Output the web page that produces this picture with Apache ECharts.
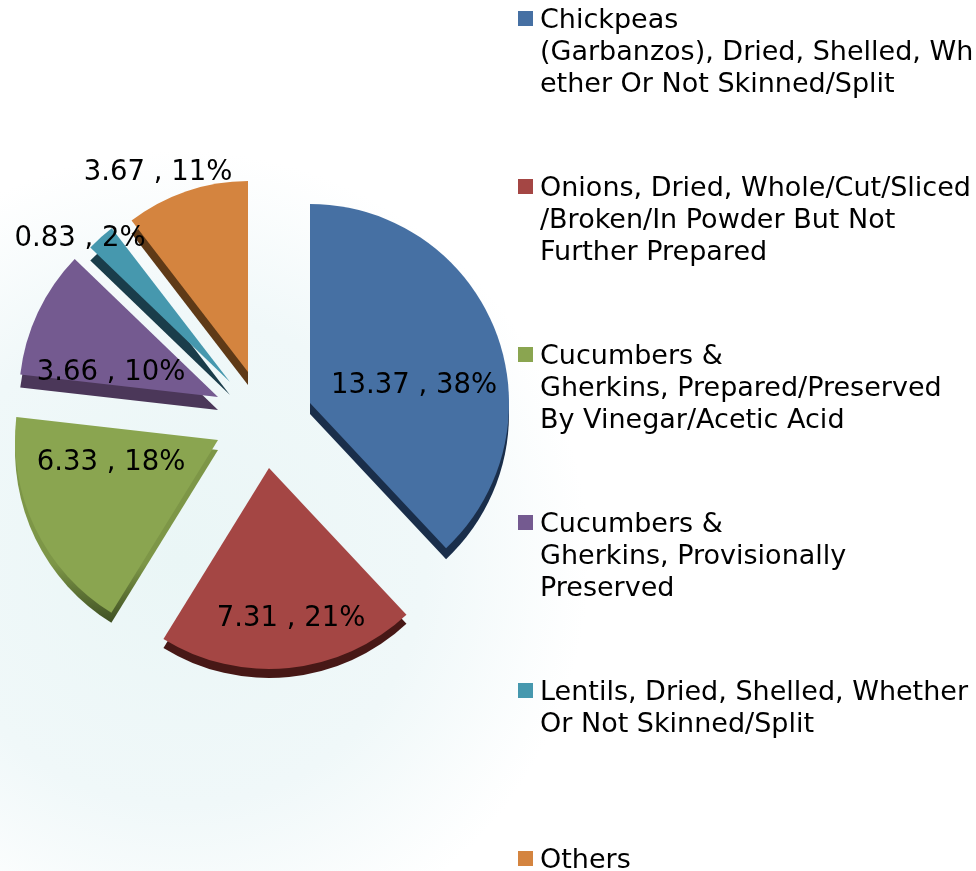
<!DOCTYPE html>
<html>
<head>
<meta charset="utf-8">
<style>
  html, body { margin: 0; padding: 0; background: #fff; }
  #main { width: 976px; height: 871px; }
</style>
<script src="https://cdn.jsdelivr.net/npm/echarts@6/dist/echarts.min.js"></script>
</head>
<body>
<div id="main"></div>
<script>
// values
const categories = [
  'Chickpeas (Garbanzos), Dried, Shelled, Whether Or Not Skinned/Split',
  'Onions, Dried, Whole/Cut/Sliced/Broken/In Powder But Not Further Prepared',
  'Cucumbers & Gherkins, Prepared/Preserved By Vinegar/Acetic Acid',
  'Cucumbers & Gherkins, Provisionally Preserved',
  'Lentils, Dried, Shelled, Whether Or Not Skinned/Split',
  'Others'
];
const legendLines = [
  ['Chickpeas', '(Garbanzos), Dried, Shelled, Wh', 'ether Or Not Skinned/Split'],
  ['Onions, Dried, Whole/Cut/Sliced', '/Broken/In Powder But Not', 'Further Prepared'],
  ['Cucumbers &', 'Gherkins, Prepared/Preserved', 'By Vinegar/Acetic Acid'],
  ['Cucumbers &', 'Gherkins, Provisionally', 'Preserved'],
  ['Lentils, Dried, Shelled, Whether', 'Or Not Skinned/Split', ' '],
  ['Others', ' ', ' ']
];
const values = [13.37, 7.31, 6.33, 3.66, 0.83, 3.67];

const colors = ['#4670a3', '#a44644', '#8aa550', '#745a90', '#4698ae', '#d4843f'];
const greenSide = {
  type: 'linear', x: 0, y: 0, x2: 0, y2: 1,
  colorStops: [
    { offset: 0, color: '#7d9647' },
    { offset: 0.7, color: '#7d9647' },
    { offset: 1, color: '#3f5023' }
  ]
};
const sideColors = ['#1a2e4a', '#471816', greenSide, '#4b3759', '#1a3d4a', '#5f3a17'];

// each slice is pulled out by its own amount
const tips = [[310, 403], [269, 468], [218, 440], [218, 397], [230, 382], [248, 372]];
const radii = [199, 201, 203, 199, 194, 191];
const depths = [11, 9, 10, 13, 13, 13];
const labelPos = [[414, 386], [291, 619], [111, 463], [111, 373], [80, 239], [158, 173]];

const font = '"DejaVu Sans", Verdana, sans-serif';
const series = [];

function sliceSeries(i, color, isSide) {
  const d = isSide ? depths[i] : 0;
  return {
    type: 'pie',
    z: isSide ? 1 : 2,
    silent: true,
    animation: false,
    startAngle: 90,
    percentPrecision: 0,
    radius: [0, radii[i]],
    center: [tips[i][0], tips[i][1] + d],
    avoidLabelOverlap: false,
    label: { show: false },
    labelLine: { show: false },
    emphasis: { disabled: true },
    labelLayout: function () {
      return { x: labelPos[i][0], y: labelPos[i][1], align: 'center', verticalAlign: 'middle' };
    },
    data: values.map(function (v, j) {
      if (j !== i) {
        return { name: '', value: v, itemStyle: { color: 'transparent' } };
      }
      return {
        name: isSide ? '' : categories[i],
        value: v,
        itemStyle: { color: color },
        label: {
          show: !isSide,
          position: 'inside',
          formatter: '{c} , {d}%',
          color: '#000',
          fontFamily: font,
          fontSize: 27.5
        }
      };
    })
  };
}

for (let i = 0; i < values.length; i++) {
  series.push(sliceSeries(i, sideColors[i], true));
  series.push(sliceSeries(i, colors[i], false));
}

const chart = echarts.init(document.getElementById('main'), null, { renderer: 'canvas' });
chart.setOption({
  animation: false,
  backgroundColor: {
    type: 'radial',
    x: 0.184,
    y: 0.643,
    r: 0.47,
    colorStops: [
      { offset: 0, color: '#eaf6f6' },
      { offset: 0.6, color: '#f0f8f9' },
      { offset: 1, color: '#ffffff' }
    ]
  },
  legend: {
    orient: 'vertical',
    left: 518,
    top: 5,
    height: 1100,
    padding: 0,
    itemWidth: 17,
    itemHeight: 96,
    itemGap: 72,
    selectedMode: false,
    icon: 'path://M0 0h.01v.01zM0 6H15V21H0zM17 96h-.01v-.01z',
    data: categories,
    formatter: function (name) {
      return legendLines[categories.indexOf(name)].join('\n');
    },
    textStyle: { color: '#000', fontFamily: font, fontSize: 27, lineHeight: 32 }
  },
  series: series
});
</script>
</body>
</html>
